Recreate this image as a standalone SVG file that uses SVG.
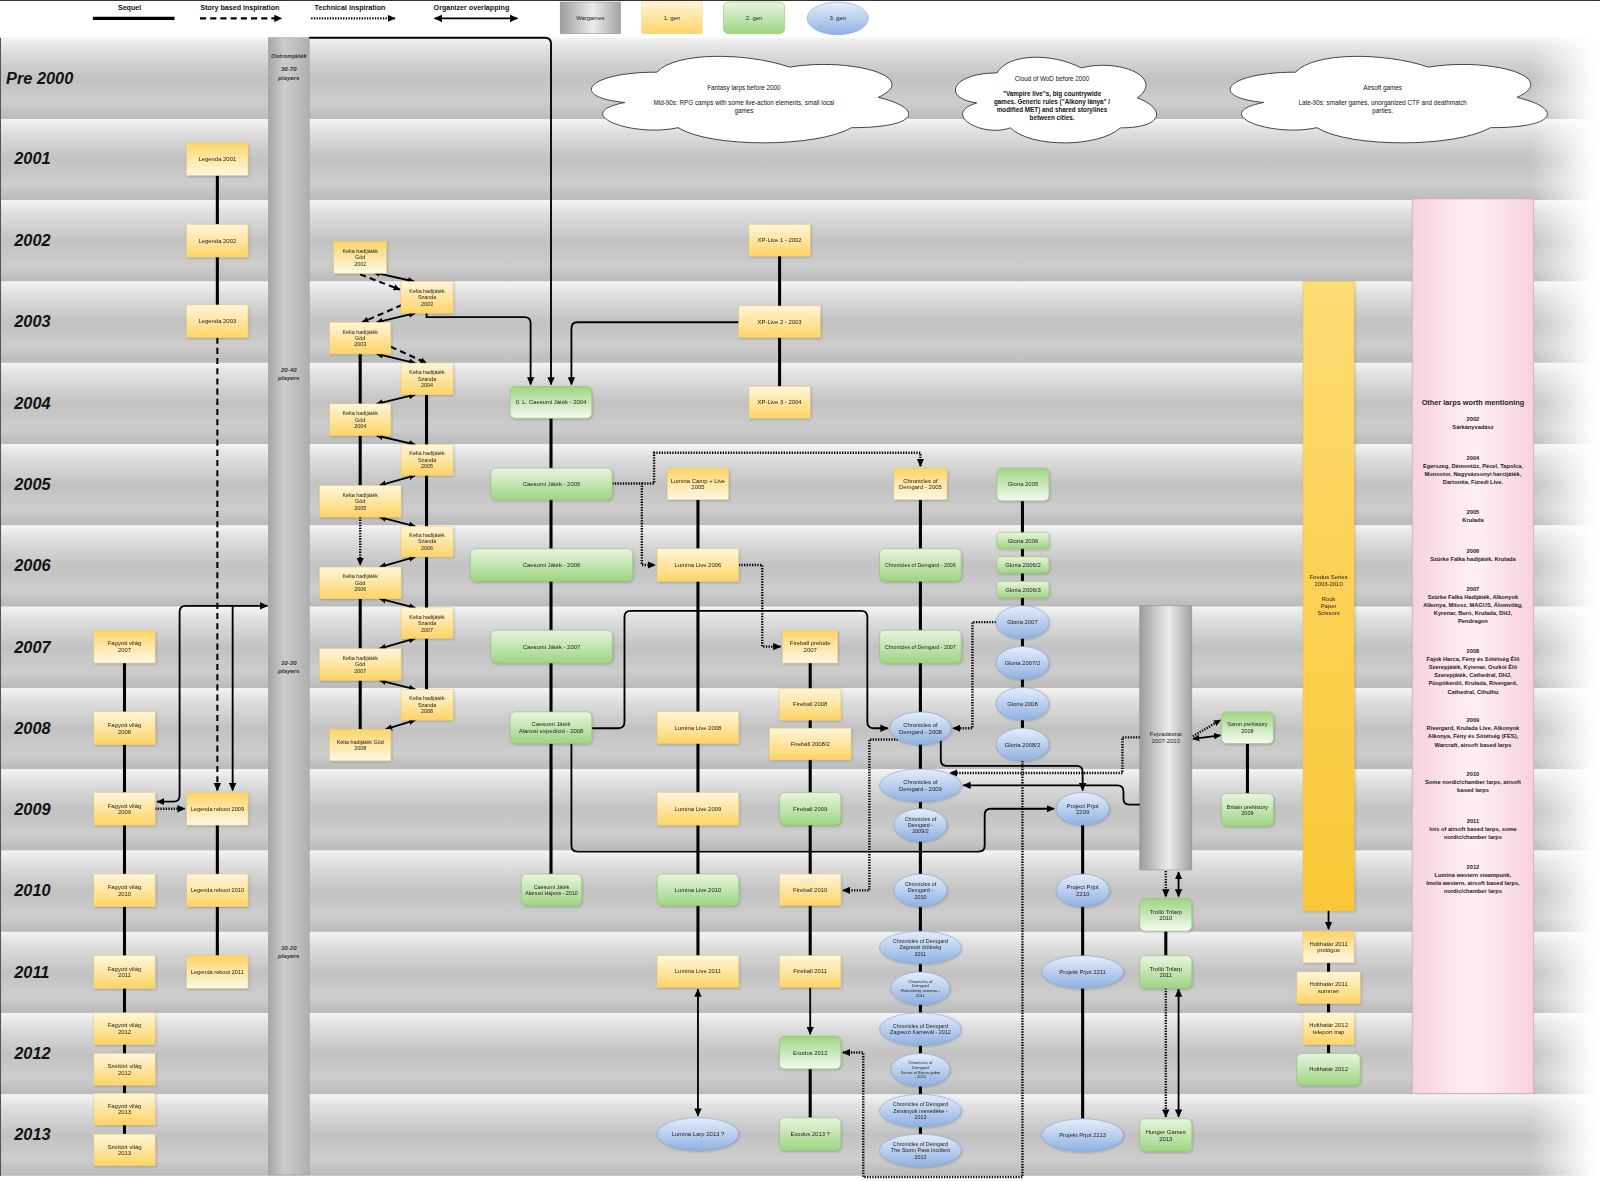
<svg xmlns="http://www.w3.org/2000/svg" width="1600" height="1181" viewBox="0 0 1600 1181">
<defs>
<linearGradient id="band" x1="0" y1="0" x2="0" y2="1"><stop offset="0" stop-color="#f4f4f4"/><stop offset="0.15" stop-color="#e0e0e0"/><stop offset="0.5" stop-color="#c2c2c2"/><stop offset="0.8" stop-color="#cdcdcd"/><stop offset="1" stop-color="#bababa"/></linearGradient>
<linearGradient id="gy1" x1="0" y1="0" x2="0" y2="1"><stop offset="0" stop-color="#fff6da"/><stop offset="1" stop-color="#fdd466"/></linearGradient>
<linearGradient id="gy2" x1="0" y1="0" x2="0" y2="1"><stop offset="0" stop-color="#fdd466"/><stop offset="1" stop-color="#fff8e6"/></linearGradient>
<linearGradient id="gg1" x1="0" y1="0" x2="0" y2="1"><stop offset="0" stop-color="#e8f5df"/><stop offset="1" stop-color="#9ed583"/></linearGradient>
<linearGradient id="gg2" x1="0" y1="0" x2="0" y2="1"><stop offset="0" stop-color="#9ed583"/><stop offset="1" stop-color="#f4fbf0"/></linearGradient>
<linearGradient id="gb" x1="0" y1="0" x2="0" y2="1"><stop offset="0" stop-color="#e6eefb"/><stop offset="1" stop-color="#8fb1e2"/></linearGradient>
<linearGradient id="ggr" x1="0" y1="0" x2="1" y2="0"><stop offset="0" stop-color="#9d9d9d"/><stop offset="0.55" stop-color="#ececec"/><stop offset="1" stop-color="#a2a2a2"/></linearGradient>
<linearGradient id="gost" x1="0" y1="0" x2="1" y2="0"><stop offset="0" stop-color="#a6a6a6"/><stop offset="0.4" stop-color="#cdcdcd"/><stop offset="1" stop-color="#afafaf"/></linearGradient>
<linearGradient id="gfo" x1="0" y1="0" x2="0" y2="1"><stop offset="0" stop-color="#fddb74"/><stop offset="0.4" stop-color="#fdd35a"/><stop offset="1" stop-color="#f9c736"/></linearGradient>
<linearGradient id="gpk" x1="0" y1="0" x2="1" y2="0"><stop offset="0" stop-color="#f8d1de"/><stop offset="0.5" stop-color="#fff0f5"/><stop offset="1" stop-color="#f8d1de"/></linearGradient>
<linearGradient id="gfade" x1="0" y1="0" x2="1" y2="0"><stop offset="0" stop-color="#fff" stop-opacity="0"/><stop offset="1" stop-color="#fff" stop-opacity="1"/></linearGradient>
<filter id="ds" x="-20%" y="-20%" width="140%" height="150%"><feDropShadow dx="0.8" dy="1" stdDeviation="0.8" flood-color="#000" flood-opacity="0.22"/></filter>
<marker id="ah" viewBox="0 0 10 10" refX="9" refY="5" markerUnits="userSpaceOnUse" markerWidth="8" markerHeight="8" orient="auto-start-reverse"><path d="M0,0.5 L10,5 L0,9.5 z" fill="#000"/></marker>
<marker id="as" viewBox="0 0 10 10" refX="9" refY="5" markerUnits="userSpaceOnUse" markerWidth="7" markerHeight="7" orient="auto-start-reverse"><path d="M0,0.5 L10,5 L0,9.5 z" fill="#000"/></marker>
<style>
.t{font-family:"Liberation Sans",Arial,Helvetica,sans-serif;font-size:5.8px;fill:#222;text-anchor:middle}
.k{font-size:5.3px}
.sm{font-size:4px}
.yr{font-family:"Liberation Sans",Arial,sans-serif;font-size:16px;font-weight:bold;font-style:italic;fill:#111}
.lg{font-family:"Liberation Sans",Arial,sans-serif;font-size:7px;font-weight:bold;fill:#111;text-anchor:middle}
.pk{font-family:"Liberation Sans",Arial,sans-serif;font-size:5.6px;font-weight:bold;fill:#222;text-anchor:middle}
.bt{font-family:"Liberation Sans",Arial,sans-serif;font-size:6px;font-weight:bold;font-style:italic;fill:#333;text-anchor:middle}
.ct{font-family:"Liberation Sans",Arial,sans-serif;font-size:6.2px;fill:#111;text-anchor:middle}
.bd{fill:url(#band)}
.y1{fill:url(#gy1);stroke:#f3cf6a;stroke-width:0.5}
.y2{fill:url(#gy2);stroke:#f3cf6a;stroke-width:0.5}
.g1{fill:url(#gg1);stroke:#8ccb6c;stroke-width:0.6}
.g2{fill:url(#gg2);stroke:#8ccb6c;stroke-width:0.6}
.b{fill:url(#gb);stroke:#84a6d6;stroke-width:0.6}
.gr{fill:url(#ggr);stroke:#8a8a8a;stroke-width:0.5}
.n{filter:url(#ds)}
.s{stroke:#000;stroke-width:3;fill:none}
.l{stroke:#000;stroke-width:1.8;fill:none}
.d{stroke:#000;stroke-width:2;stroke-dasharray:6 4;fill:none}
.o{stroke:#000;stroke-width:2.4;stroke-dasharray:1.3 1.3;fill:none}
.cl{fill:#fff;stroke:#444;stroke-width:1}
</style>
</defs>
<rect x="0" y="0" width="1600" height="1181" fill="#fff"/>
<g transform="scale(1.0204 1.0199)">
<g id="bands">
<rect class="bd" x="0" y="37" width="1562" height="79.7"/>
<rect class="bd" x="0" y="116.7" width="1562" height="79.7"/>
<rect class="bd" x="0" y="196.4" width="1562" height="79.7"/>
<rect class="bd" x="0" y="276.1" width="1562" height="79.7"/>
<rect class="bd" x="0" y="355.8" width="1562" height="79.7"/>
<rect class="bd" x="0" y="435.5" width="1562" height="79.7"/>
<rect class="bd" x="0" y="515.2" width="1562" height="79.7"/>
<rect class="bd" x="0" y="594.9" width="1562" height="79.7"/>
<rect class="bd" x="0" y="674.6" width="1562" height="79.7"/>
<rect class="bd" x="0" y="754.3" width="1562" height="79.7"/>
<rect class="bd" x="0" y="834" width="1562" height="79.7"/>
<rect class="bd" x="0" y="913.7" width="1562" height="79.7"/>
<rect class="bd" x="0" y="993.4" width="1562" height="79.7"/>
<rect class="bd" x="0" y="1073.1" width="1562" height="79.7"/>
<rect x="1500" y="37" width="62" height="1116" fill="url(#gfade)"/>
<line x1="0.5" y1="37" x2="0.5" y2="1153" stroke="#555" stroke-width="1"/>
<line x1="0" y1="0.5" x2="1568" y2="0.5" stroke="#333" stroke-width="1"/>
</g>
<g id="years">
<text class="yr" x="6" y="82">Pre 2000</text>
<text class="yr" x="14" y="161">2001</text>
<text class="yr" x="14" y="241">2002</text>
<text class="yr" x="14" y="321">2003</text>
<text class="yr" x="14" y="401">2004</text>
<text class="yr" x="14" y="480">2005</text>
<text class="yr" x="14" y="560">2006</text>
<text class="yr" x="14" y="640">2007</text>
<text class="yr" x="14" y="720">2008</text>
<text class="yr" x="14" y="799">2009</text>
<text class="yr" x="14" y="879">2010</text>
<text class="yr" x="14" y="959">2011</text>
<text class="yr" x="14" y="1038">2012</text>
<text class="yr" x="14" y="1118">2013</text>
</g>
<g id="legend">
<text class="lg" x="127" y="10">Sequel</text>
<line class="s" x1="91" y1="18" x2="171" y2="18"/>
<text class="lg" x="235" y="10">Story based inspiration</text>
<line class="d" x1="196" y1="18" x2="276" y2="18" marker-end="url(#ah)"/>
<text class="lg" x="343" y="10">Technical inspiration</text>
<line class="o" x1="305" y1="18" x2="387" y2="18" marker-end="url(#ah)"/>
<text class="lg" x="462" y="10">Organizer overlapping</text>
<line class="l" x1="426" y1="18" x2="507" y2="18" marker-start="url(#ah)" marker-end="url(#ah)"/>
<g id="lg_war"><rect class="gr" x="549" y="2" width="59" height="31"/><text class="t" x="578.5" y="19.5">Wargames</text></g>
<g id="lg_1gen"><rect class="y1" x="629" y="2" width="59" height="31"/><text class="t" x="658.5" y="19.5">1. gen</text></g>
<g id="lg_2gen"><rect class="g1" x="709" y="2" width="60" height="31" rx="5"/><text class="t" x="739" y="19.5">2. gen</text></g>
<g id="lg_3gen"><ellipse class="b" cx="821" cy="18" rx="30" ry="16"/><text class="t" x="821" y="20">3. gen</text></g>
</g>
<g id="ostromjatek">
<rect x="263" y="37" width="40" height="1115" fill="url(#gost)" stroke="#999" stroke-width="0.5"/>
<text class="bt" x="283" y="57">Ostromjáték</text>
<text class="bt" x="283" y="70">30-70</text>
<text class="bt" x="283" y="78">players</text>
<text class="bt" x="283" y="365">20-40</text>
<text class="bt" x="283" y="373">players</text>
<text class="bt" x="283" y="652">10-30</text>
<text class="bt" x="283" y="660">players</text>
<text class="bt" x="283" y="931">10-20</text>
<text class="bt" x="283" y="939">players</text>
</g>
<g id="other_larps">
<rect x="1384" y="195" width="119" height="877" fill="url(#gpk)" stroke="#d7a9b9" stroke-width="0.8"/>
<text class="pk" x="1443.5" y="397" style="font-size:7.2px">Other larps worth mentioning</text>
<text class="pk" x="1443.5" y="413">2002</text>
<text class="pk" x="1443.5" y="421">Sárkányvadász</text>
<text class="pk" x="1443.5" y="451">2004</text>
<text class="pk" x="1443.5" y="459">Egerszeg, Démontűz, Pécel, Tapolca,</text>
<text class="pk" x="1443.5" y="467">Monostor, Nagyvázsonyi harcijáték,</text>
<text class="pk" x="1443.5" y="475">Dartonita, Füredi Live.</text>
<text class="pk" x="1443.5" y="504">2005</text>
<text class="pk" x="1443.5" y="512">Krulada</text>
<text class="pk" x="1443.5" y="542">2006</text>
<text class="pk" x="1443.5" y="550">Szürke Falka hadijáték, Krulada</text>
<text class="pk" x="1443.5" y="579">2007</text>
<text class="pk" x="1443.5" y="587">Szürke Falka Hadijáték, Alkonyok</text>
<text class="pk" x="1443.5" y="595">Alkonya, Mítosz, MAGUS, Álomvilág,</text>
<text class="pk" x="1443.5" y="603">Kyrenar, Buró, Krulada, DHJ,</text>
<text class="pk" x="1443.5" y="611">Pendragon</text>
<text class="pk" x="1443.5" y="640">2008</text>
<text class="pk" x="1443.5" y="648">Fajok Harca, Fény és Sötétség Élő</text>
<text class="pk" x="1443.5" y="656">Szerepjáték, Kyrenar, Oszkói Élő</text>
<text class="pk" x="1443.5" y="664">Szerepjáték, Cathedral, DHJ,</text>
<text class="pk" x="1443.5" y="672">Püspökerdő, Krulada, Rivergard,</text>
<text class="pk" x="1443.5" y="680">Cathedral, Cthulhu</text>
<text class="pk" x="1443.5" y="708">2009</text>
<text class="pk" x="1443.5" y="716">Rivergard, Krulada Live, Alkonyok</text>
<text class="pk" x="1443.5" y="724">Alkonya, Fény és Sötétség (FES),</text>
<text class="pk" x="1443.5" y="732">Warcraft, airsoft based larps</text>
<text class="pk" x="1443.5" y="761">2010</text>
<text class="pk" x="1443.5" y="769">Some nordic/chamber larps, airsoft</text>
<text class="pk" x="1443.5" y="777">based larps</text>
<text class="pk" x="1443.5" y="807">2011</text>
<text class="pk" x="1443.5" y="815">lots of airsoft based larps, some</text>
<text class="pk" x="1443.5" y="823">nordic/chamber larps</text>
<text class="pk" x="1443.5" y="852">2012</text>
<text class="pk" x="1443.5" y="860">Lumina western steampunk,</text>
<text class="pk" x="1443.5" y="868">Imola western, airsoft based larps,</text>
<text class="pk" x="1443.5" y="876">nordic/chamber larps</text>
</g>
<g id="foedus" class="n">
<rect x="1277" y="276" width="50" height="617" fill="url(#gfo)" stroke="#f2c64a" stroke-width="0.6"/>
<text class="t" x="1302" y="568">Foedus Series</text>
<text class="t" x="1302" y="575">2003-2010</text>
<text class="t" x="1302" y="589">Rock</text>
<text class="t" x="1302" y="596">Paper</text>
<text class="t" x="1302" y="603">Scissors</text>
</g>
<g id="fejvadaszat">
<rect class="gr" x="1117" y="594" width="51" height="259"/>
<text class="t" x="1142.5" y="721.75">Fejvadászat<tspan x="1142.5" dy="6.5">2007-2010</tspan></text>
</g>
<g id="cloud_fantasy">
<path class="cl" vector-effect="non-scaling-stroke" transform="translate(557 46) scale(3.47 0.99)" d="M25 25 C5 25 0 50 16 55 C0 66 18 90 31 80 C40 100 70 100 80 80 C100 80 100 60 87.5 50 C100 30 80 10 62.5 20 C50 5 30 5 25 25 Z"/>
<text class="ct" x="729" y="88">Fantasy larps before 2000</text>
<text class="ct" x="729" y="103">Mid-90s: RPG camps with some live-action elements, small local</text>
<text class="ct" x="729" y="110.5">games</text>
</g>
<g id="cloud_wod">
<path class="cl" vector-effect="non-scaling-stroke" transform="translate(922 47) scale(2.2 0.98)" d="M25 25 C5 25 0 50 16 55 C0 66 18 90 31 80 C40 100 70 100 80 80 C100 80 100 60 87.5 50 C100 30 80 10 62.5 20 C50 5 30 5 25 25 Z"/>
<text class="ct" x="1031" y="79">Cloud of WoD before 2000</text>
<text class="ct" x="1031" y="94" font-weight="bold">"Vampire live"s, big countrywide</text>
<text class="ct" x="1031" y="102" font-weight="bold">games. Generic rules ("Alkony lánya" /</text>
<text class="ct" x="1031" y="110" font-weight="bold">modified MET) and shared storylines</text>
<text class="ct" x="1031" y="118" font-weight="bold">between cities.</text>
</g>
<g id="cloud_airsoft">
<path class="cl" vector-effect="non-scaling-stroke" transform="translate(1183 46) scale(3.47 0.99)" d="M25 25 C5 25 0 50 16 55 C0 66 18 90 31 80 C40 100 70 100 80 80 C100 80 100 60 87.5 50 C100 30 80 10 62.5 20 C50 5 30 5 25 25 Z"/>
<text class="ct" x="1355" y="88">Airsoft games</text>
<text class="ct" x="1355" y="103">Late-90s: smaller games, unorganized CTF and deathmatch</text>
<text class="ct" x="1355" y="110.5">parties.</text>
</g>
<g id="connectors">
<path class="s" d="M213 172 V220 M213 252 V299 M213 809 V857 M213 889 V937"/>
<path class="s" d="M122 650 V1112"/>
<path class="s" d="M353 347 V396 M353 427 V476 M353 587 V636 M353 667 V715"/>
<path class="s" d="M418 387 V676"/>
<path class="s" d="M540 410 V857"/>
<path class="s" d="M764 251 V379"/>
<path class="s" d="M684 490 V937"/>
<path class="s" d="M794 650 V937 M794 1048 V1096"/>
<path class="s" d="M902 490 V1112"/>
<path class="s" d="M1002 491 V714"/>
<path class="s" d="M1061 809 V1097"/>
<path class="s" d="M1142.5 913 V937"/>
<path class="s" d="M1222.5 729 V778"/>
<path class="s" d="M1302 944 V1033"/>
<path class="d" d="M213 331 V775" marker-end="url(#ah)"/>
<path class="o" d="M353 507 V554" marker-end="url(#ah)"/>
<path class="d" d="M353 269 L392 284" marker-end="url(#as)"/>
<path class="d" d="M394 299 L355 316" marker-end="url(#as)"/>
<path class="d" d="M383 340 L418 356" marker-end="url(#as)"/>
<g marker-start="url(#as)" marker-end="url(#as)">
<path class="l" d="M366 267 L406 276"/>
<path class="l" d="M407 307 L369 316"/>
<path class="l" d="M369 347 L407 356"/>
<path class="l" d="M407 387 L369 396"/>
<path class="l" d="M369 427 L407 436"/>
<path class="l" d="M407 466 L372 476"/>
<path class="l" d="M372 507 L407 516"/>
<path class="l" d="M407 546 L372 556"/>
<path class="l" d="M372 587 L407 596"/>
<path class="l" d="M407 626 L372 636"/>
<path class="l" d="M372 667 L407 676"/>
<path class="l" d="M407 706 L378 715"/>
</g>
<path class="l" d="M303 37 H534 Q540 37 540 43 V377" marker-end="url(#ah)"/>
<path class="l" d="M418 307 V311 H514 Q520 311 520 317 V377" marker-end="url(#ah)"/>
<path class="l" d="M724 316 H566 Q560 316 560 322 V377" marker-end="url(#ah)"/>
<path class="l" d="M154 786 H170 Q176 786 176 780 V600 Q176 594 182 594 H262" marker-start="url(#ah)" marker-end="url(#ah)"/>
<path class="l" d="M228 594 V775" marker-end="url(#ah)"/>
<path class="o" d="M152 793 H181" marker-end="url(#ah)"/>
<path class="o" d="M600 474 H629 V554 H642" marker-end="url(#ah)"/>
<path class="o" d="M629 474 H641 V444 H902 V457" marker-end="url(#ah)"/>
<path class="o" d="M724 554 H747 V634 H765" marker-end="url(#ah)"/>
<path class="l" d="M580 714 H606 Q612 714 612 708 V605 Q612 599 618 599 H844 Q850 599 850 605 V708 Q850 714 856 714 H870" marker-end="url(#ah)"/>
<path class="l" d="M560 729 V829 Q560 835 566 835 H959 Q965 835 965 829 V799 Q965 793 971 793 H1033" marker-end="url(#ah)"/>
<path class="l" d="M922 726 V745 Q922 751 928 751 H1055 Q1061 751 1061 757 V775" marker-end="url(#ah)"/>
<path class="o" d="M976 610 H953 V714 H934" marker-end="url(#ah)"/>
<path class="o" d="M880 725 H852 V873 H826" marker-end="url(#ah)"/>
<path class="o" d="M1002 746 V1154 H846 V1032 H826" marker-end="url(#ah)"/>
<path class="o" d="M1117 723 H1100 V758 H931" marker-end="url(#ah)"/>
<path class="l" d="M1117 789 H1107 Q1101 789 1101 783 V776 Q1101 770 1095 770 H944" marker-end="url(#ah)"/>
<path class="o" d="M1169 722 L1196 706" marker-end="url(#as)"/>
<path class="l" d="M1169 724.5 L1196 721" marker-start="url(#as)" marker-end="url(#as)"/>
<path class="o" d="M1142.5 854 V879" marker-end="url(#ah)"/>
<path class="l" d="M1155 855 V879" marker-start="url(#ah)" marker-end="url(#ah)"/>
<path class="o" d="M1142.5 969 V1095" marker-end="url(#ah)"/>
<path class="l" d="M1155 970 V1095" marker-start="url(#ah)" marker-end="url(#ah)"/>
<path class="l" d="M684 970 V1094" marker-start="url(#ah)" marker-end="url(#ah)"/>
<path class="l" d="M794 968 V1014" marker-end="url(#ah)"/>
<path class="l" d="M1302 893 V911" stroke-width="2.4" marker-end="url(#ah)"/>
</g>
<g id="n_legenda2001" class="n"><rect class="y2" x="183" y="140" width="60" height="32"/><text class="t" x="213" y="158">Legenda 2001</text></g>
<g id="n_legenda2002" class="n"><rect class="y1" x="183" y="220" width="60" height="32"/><text class="t" x="213" y="238">Legenda 2002</text></g>
<g id="n_legenda2003" class="n"><rect class="y1" x="183" y="299" width="60" height="32"/><text class="t" x="213" y="317">Legenda 2003</text></g>
<g id="n_legendar2009" class="n"><rect class="y2" x="183" y="777" width="60" height="32"/><text class="t" x="213" y="795" style="font-size:5.5px">Legenda reboot 2009</text></g>
<g id="n_legendar2010" class="n"><rect class="y1" x="183" y="857" width="60" height="32"/><text class="t" x="213" y="875" style="font-size:5.5px">Legenda reboot 2010</text></g>
<g id="n_legendar2011" class="n"><rect class="y2" x="183" y="937" width="60" height="32"/><text class="t" x="213" y="955" style="font-size:5.5px">Legenda reboot 2011</text></g>
<g id="n_fagyott2007" class="n"><rect class="y2" x="92" y="618" width="60" height="32"/><text class="t" x="122" y="632.75">Fagyott világ<tspan x="122" dy="6.5">2007</tspan></text></g>
<g id="n_fagyott2008" class="n"><rect class="y1" x="92" y="698" width="60" height="32"/><text class="t" x="122" y="712.75">Fagyott világ<tspan x="122" dy="6.5">2008</tspan></text></g>
<g id="n_fagyott2009" class="n"><rect class="y1" x="92" y="777" width="60" height="32"/><text class="t" x="122" y="791.75">Fagyott világ<tspan x="122" dy="6.5">2009</tspan></text></g>
<g id="n_fagyott2010" class="n"><rect class="y1" x="92" y="857" width="60" height="32"/><text class="t" x="122" y="871.75">Fagyott világ<tspan x="122" dy="6.5">2010</tspan></text></g>
<g id="n_fagyott2011" class="n"><rect class="y1" x="92" y="937" width="60" height="32"/><text class="t" x="122" y="951.75">Fagyott világ<tspan x="122" dy="6.5">2011</tspan></text></g>
<g id="n_fagyott2012" class="n"><rect class="y1" x="92" y="993" width="60" height="31"/><text class="t" x="122" y="1007.25">Fagyott világ<tspan x="122" dy="6.5">2012</tspan></text></g>
<g id="n_szettort2012" class="n"><rect class="y1" x="92" y="1033" width="60" height="31"/><text class="t" x="122" y="1047.25">Széttört világ<tspan x="122" dy="6.5">2012</tspan></text></g>
<g id="n_fagyott2013" class="n"><rect class="y1" x="92" y="1072" width="60" height="31"/><text class="t" x="122" y="1086.25">Fagyott világ<tspan x="122" dy="6.5">2013</tspan></text></g>
<g id="n_szettort2013" class="n"><rect class="y1" x="92" y="1112" width="60" height="31"/><text class="t" x="122" y="1126.25">Széttört világ<tspan x="122" dy="6.5">2013</tspan></text></g>
<g id="n_kgod2002" class="n"><rect class="y2" x="327" y="237" width="52" height="31"/><text class="t k" x="353" y="248.1">Kelta hadijáték<tspan x="353" dy="6.3">Göd</tspan><tspan x="353" dy="6.3">2002</tspan></text></g>
<g id="n_kszanda2003" class="n"><rect class="y1" x="393" y="276" width="51" height="31"/><text class="t k" x="418.5" y="287.1">Kelta hadijáték<tspan x="418.5" dy="6.3">Szanda</tspan><tspan x="418.5" dy="6.3">2003</tspan></text></g>
<g id="n_kgod2003" class="n"><rect class="y1" x="323" y="316" width="60" height="31"/><text class="t k" x="353" y="327.1">Kelta hadijáték<tspan x="353" dy="6.3">Göd</tspan><tspan x="353" dy="6.3">2003</tspan></text></g>
<g id="n_kszanda2004" class="n"><rect class="y1" x="393" y="356" width="51" height="31"/><text class="t k" x="418.5" y="367.1">Kelta hadijáték<tspan x="418.5" dy="6.3">Szanda</tspan><tspan x="418.5" dy="6.3">2004</tspan></text></g>
<g id="n_kgod2004" class="n"><rect class="y1" x="323" y="396" width="60" height="31"/><text class="t k" x="353" y="407.1">Kelta hadijáték<tspan x="353" dy="6.3">Göd</tspan><tspan x="353" dy="6.3">2004</tspan></text></g>
<g id="n_kszanda2005" class="n"><rect class="y1" x="393" y="436" width="51" height="30"/><text class="t k" x="418.5" y="446.6">Kelta hadijáték<tspan x="418.5" dy="6.3">Szanda</tspan><tspan x="418.5" dy="6.3">2005</tspan></text></g>
<g id="n_kgod2005" class="n"><rect class="y1" x="313" y="476" width="80" height="31"/><text class="t k" x="353" y="487.1">Kelta hadijáték<tspan x="353" dy="6.3">Göd</tspan><tspan x="353" dy="6.3">2005</tspan></text></g>
<g id="n_kszanda2006" class="n"><rect class="y1" x="393" y="516" width="51" height="30"/><text class="t k" x="418.5" y="526.6">Kelta hadijáték<tspan x="418.5" dy="6.3">Szanda</tspan><tspan x="418.5" dy="6.3">2006</tspan></text></g>
<g id="n_kgod2006" class="n"><rect class="y1" x="313" y="556" width="80" height="31"/><text class="t k" x="353" y="567.1">Kelta hadijáték<tspan x="353" dy="6.3">Göd</tspan><tspan x="353" dy="6.3">2006</tspan></text></g>
<g id="n_kszanda2007" class="n"><rect class="y1" x="393" y="596" width="51" height="30"/><text class="t k" x="418.5" y="606.6">Kelta hadijáték<tspan x="418.5" dy="6.3">Szanda</tspan><tspan x="418.5" dy="6.3">2007</tspan></text></g>
<g id="n_kgod2007" class="n"><rect class="y1" x="313" y="636" width="80" height="31"/><text class="t k" x="353" y="647.1">Kelta hadijáték<tspan x="353" dy="6.3">Göd</tspan><tspan x="353" dy="6.3">2007</tspan></text></g>
<g id="n_kszanda2008" class="n"><rect class="y1" x="393" y="676" width="51" height="30"/><text class="t k" x="418.5" y="686.6">Kelta hadijáték<tspan x="418.5" dy="6.3">Szanda</tspan><tspan x="418.5" dy="6.3">2008</tspan></text></g>
<g id="n_kgod2008" class="n"><rect class="y2" x="323" y="715" width="60" height="31"/><text class="t k" x="353" y="729.3">Kelta hadijáték Göd<tspan x="353" dy="6.3">2008</tspan></text></g>
<g id="n_caesumi2004" class="n"><rect class="g2" x="500" y="379" width="80" height="31" rx="5"/><text class="t" x="540" y="396.5">0. L. Caesumi Játék - 2004</text></g>
<g id="n_caesumi2005" class="n"><rect class="g1" x="481" y="459" width="119" height="31" rx="5"/><text class="t" x="540.5" y="476.5">Caesumi Játék - 2005</text></g>
<g id="n_caesumi2006" class="n"><rect class="g1" x="461" y="538" width="159" height="32" rx="5"/><text class="t" x="540.5" y="556">Caesumi Játék - 2006</text></g>
<g id="n_caesumi2007" class="n"><rect class="g1" x="481" y="618" width="119" height="32" rx="5"/><text class="t" x="540.5" y="636">Caesumi Játék - 2007</text></g>
<g id="n_caesumi2008" class="n"><rect class="g1" x="500" y="698" width="80" height="31" rx="5"/><text class="t" x="540" y="712.25">Caesumi Játék<tspan x="540" dy="6.5">Alanusi expedíció - 2008</tspan></text></g>
<g id="n_caesumi2010" class="n"><rect class="g1" x="511" y="857" width="59" height="31" rx="5"/><text class="t" x="540.5" y="871.25" style="font-size:5.3px">Caesumi Játék<tspan x="540.5" dy="6.5">Alanusi Hajsza - 2010</tspan></text></g>
<g id="n_xplive1" class="n"><rect class="y1" x="734" y="220" width="60" height="31"/><text class="t" x="764" y="237.5">XP-Live 1 - 2002</text></g>
<g id="n_xplive2" class="n"><rect class="y1" x="724" y="300" width="80" height="31"/><text class="t" x="764" y="317.5">XP-Live 2 - 2003</text></g>
<g id="n_xplive3" class="n"><rect class="y1" x="734" y="379" width="60" height="31"/><text class="t" x="764" y="396.5">XP-Live 3 - 2004</text></g>
<g id="n_lumina2005" class="n"><rect class="y2" x="654" y="459" width="60" height="31"/><text class="t" x="684" y="473.25">Lumina Camp + Live<tspan x="684" dy="6.5">2005</tspan></text></g>
<g id="n_lumina2006" class="n"><rect class="y1" x="644" y="538" width="80" height="32"/><text class="t" x="684" y="556">Lumina Live 2006</text></g>
<g id="n_lumina2008" class="n"><rect class="y1" x="644" y="698" width="80" height="31"/><text class="t" x="684" y="715.5">Lumina Live 2008</text></g>
<g id="n_lumina2009" class="n"><rect class="y1" x="644" y="777" width="80" height="32"/><text class="t" x="684" y="795">Lumina Live 2009</text></g>
<g id="n_lumina2010" class="n"><rect class="g1" x="644" y="857" width="80" height="31" rx="5"/><text class="t" x="684" y="874.5">Lumina Live 2010</text></g>
<g id="n_lumina2011" class="n"><rect class="y1" x="644" y="937" width="80" height="31"/><text class="t" x="684" y="954.5">Lumina Live 2011</text></g>
<g id="n_lumina2013" class="n"><ellipse class="b" cx="684" cy="1112" rx="40" ry="16"/><text class="t" x="684" y="1114">Lumina Larp 2013 ?</text></g>
<g id="n_fireballprelude" class="n"><rect class="y2" x="767" y="618" width="54" height="32"/><text class="t" x="794" y="632.75">Fireball prelude<tspan x="794" dy="6.5">2007</tspan></text></g>
<g id="n_fireball2008" class="n"><rect class="y1" x="764" y="675" width="60" height="31"/><text class="t" x="794" y="692.5">Fireball 2008</text></g>
<g id="n_fireball2008b" class="n"><rect class="y1" x="754" y="714" width="80" height="31"/><text class="t" x="794" y="731.5">Fireball 2008/2</text></g>
<g id="n_fireball2009" class="n"><rect class="g1" x="764" y="777" width="60" height="32" rx="5"/><text class="t" x="794" y="795">Fireball 2009</text></g>
<g id="n_fireball2010" class="n"><rect class="y1" x="764" y="857" width="60" height="31"/><text class="t" x="794" y="874.5">Fireball 2010</text></g>
<g id="n_fireball2011" class="n"><rect class="y1" x="764" y="937" width="60" height="31"/><text class="t" x="794" y="954.5">Fireball 2011</text></g>
<g id="n_exodus2012" class="n"><rect class="g2" x="764" y="1016" width="60" height="32" rx="5"/><text class="t" x="794" y="1034">Exodus 2012</text></g>
<g id="n_exodus2013" class="n"><rect class="g1" x="764" y="1096" width="60" height="32" rx="5"/><text class="t" x="794" y="1114">Exodus 2013 ?</text></g>
<g id="n_cd2005" class="n"><rect class="y2" x="876" y="459" width="52" height="31"/><text class="t" x="902" y="473.25">Chronicles of<tspan x="902" dy="6.5">Demgard - 2005</tspan></text></g>
<g id="n_cd2006" class="n"><rect class="g1" x="862" y="538" width="80" height="32" rx="5"/><text class="t" x="902" y="556" style="font-size:5.2px">Chronicles of Demgard - 2006</text></g>
<g id="n_cd2007" class="n"><rect class="g1" x="862" y="618" width="80" height="32" rx="5"/><text class="t" x="902" y="636" style="font-size:5.2px">Chronicles of Demgard - 2007</text></g>
<g id="n_cd2008" class="n"><ellipse class="b" cx="902" cy="714" rx="30" ry="16"/><text class="t" x="902" y="712.75">Chronicles of<tspan x="902" dy="6.5">Demgard - 2008</tspan></text></g>
<g id="n_cd2009" class="n"><ellipse class="b" cx="902" cy="770" rx="40" ry="16"/><text class="t" x="902" y="768.75">Chronicles of<tspan x="902" dy="6.5">Demgard - 2009</tspan></text></g>
<g id="n_cd2009b" class="n"><ellipse class="b" cx="902" cy="809" rx="26" ry="16"/><text class="t k" x="902" y="804.6">Chronicles of<tspan x="902" dy="6.3">Demgard -</tspan><tspan x="902" dy="6.3">2009/2</tspan></text></g>
<g id="n_cd2010" class="n"><ellipse class="b" cx="902" cy="873" rx="26" ry="16"/><text class="t k" x="902" y="868.6">Chronicles of<tspan x="902" dy="6.3">Demgard -</tspan><tspan x="902" dy="6.3">2010</tspan></text></g>
<g id="n_cd2011a" class="n"><ellipse class="b" cx="902" cy="929" rx="40" ry="16"/><text class="t k" x="902" y="924.6">Chronicles of Demgard<tspan x="902" dy="6.3">Zagreozi örökség</tspan><tspan x="902" dy="6.3">2011</tspan></text></g>
<g id="n_cd2011b" class="n"><ellipse class="b" cx="902" cy="969" rx="29" ry="16"/><text class="t sm" x="902" y="963.5">Chronicles of<tspan x="902" dy="4.6">Demgard</tspan><tspan x="902" dy="4.6">Rabenberg ostroma -</tspan><tspan x="902" dy="4.6">2011</tspan></text></g>
<g id="n_cd2012a" class="n"><ellipse class="b" cx="902" cy="1009" rx="40" ry="16"/><text class="t k" x="902" y="1007.75">Chronicles of Demgard<tspan x="902" dy="6.3">Zagreozi Karnevál - 2012</tspan></text></g>
<g id="n_cd2012b" class="n"><ellipse class="b" cx="902" cy="1049" rx="29" ry="16"/><text class="t sm" x="902" y="1043.5">Chronicles of<tspan x="902" dy="4.6">Demgard</tspan><tspan x="902" dy="4.6">Secret of Barna gabin</tspan><tspan x="902" dy="4.6">- 2012</tspan></text></g>
<g id="n_cd2013a" class="n"><ellipse class="b" cx="902" cy="1089" rx="40" ry="16"/><text class="t k" x="902" y="1084.6">Chronicles of Demgard<tspan x="902" dy="6.3">Zsiványok menedéke -</tspan><tspan x="902" dy="6.3">2013</tspan></text></g>
<g id="n_cd2013b" class="n"><ellipse class="b" cx="902" cy="1128" rx="40" ry="16"/><text class="t k" x="902" y="1123.6">Chronicles of Demgard<tspan x="902" dy="6.3">The Storm Pass Incident</tspan><tspan x="902" dy="6.3">2013</tspan></text></g>
<g id="n_gloria2005" class="n"><rect class="g2" x="977" y="459" width="51" height="32" rx="5"/><text class="t" x="1002.5" y="477">Gloria 2005</text></g>
<g id="n_gloria2006" class="n"><rect class="g1" x="977" y="522" width="51" height="16" rx="4"/><text class="t" x="1002.5" y="532">Gloria 2006</text></g>
<g id="n_gloria2006b" class="n"><rect class="g1" x="977" y="546" width="51" height="16" rx="4"/><text class="t" x="1002.5" y="556">Gloria 2006/2</text></g>
<g id="n_gloria2006c" class="n"><rect class="g1" x="977" y="570" width="51" height="16" rx="4"/><text class="t" x="1002.5" y="580">Gloria 2006/3</text></g>
<g id="n_gloria2007" class="n"><ellipse class="b" cx="1002" cy="610" rx="26" ry="16"/><text class="t" x="1002" y="612">Gloria 2007</text></g>
<g id="n_gloria2007b" class="n"><ellipse class="b" cx="1002" cy="650" rx="26" ry="16"/><text class="t" x="1002" y="652">Gloria 2007/2</text></g>
<g id="n_gloria2008" class="n"><ellipse class="b" cx="1002" cy="690" rx="26" ry="16"/><text class="t" x="1002" y="692">Gloria 2008</text></g>
<g id="n_gloria2008b" class="n"><ellipse class="b" cx="1002" cy="730" rx="26" ry="16"/><text class="t" x="1002" y="732">Gloria 2008/2</text></g>
<g id="n_prjot2209" class="n"><ellipse class="b" cx="1061" cy="793" rx="26" ry="16"/><text class="t" x="1061" y="791.75">Project Prjot<tspan x="1061" dy="6.5">2209</tspan></text></g>
<g id="n_prjot2210" class="n"><ellipse class="b" cx="1061" cy="873" rx="26" ry="16"/><text class="t" x="1061" y="871.75">Project Prjot<tspan x="1061" dy="6.5">2210</tspan></text></g>
<g id="n_prjot2211" class="n"><ellipse class="b" cx="1061" cy="953" rx="40" ry="16"/><text class="t" x="1061" y="955">Projekt Prjot 2211</text></g>
<g id="n_prjot2213" class="n"><ellipse class="b" cx="1061" cy="1113" rx="40" ry="16"/><text class="t" x="1061" y="1115">Projekt Prjot 2213</text></g>
<g id="n_saron2008" class="n"><rect class="g2" x="1197" y="698" width="51" height="31" rx="5"/><text class="t" x="1222.5" y="712.25" style="font-size:5.4px">Saron prehistory<tspan x="1222.5" dy="6.5">2008</tspan></text></g>
<g id="n_britain2009" class="n"><rect class="g1" x="1197" y="778" width="51" height="32" rx="5"/><text class="t" x="1222.5" y="792.75" style="font-size:5.4px">Britain prehistory<tspan x="1222.5" dy="6.5">2009</tspan></text></g>
<g id="n_trilarp2010" class="n"><rect class="g2" x="1117" y="881" width="51" height="32" rx="5"/><text class="t" x="1142.5" y="895.75">Trolló Trilarp<tspan x="1142.5" dy="6.5">2010</tspan></text></g>
<g id="n_trilarp2011" class="n"><rect class="g1" x="1117" y="937" width="51" height="32" rx="5"/><text class="t" x="1142.5" y="951.75">Trolló Trilarp<tspan x="1142.5" dy="6.5">2011</tspan></text></g>
<g id="n_hunger2013" class="n"><rect class="g1" x="1117" y="1097" width="51" height="32" rx="5"/><text class="t" x="1142.5" y="1111.75">Hunger Games<tspan x="1142.5" dy="6.5">2013</tspan></text></g>
<g id="n_holthatar2011p" class="n"><rect class="y2" x="1277" y="913" width="50" height="31"/><text class="t" x="1302" y="927.25">Holthatár 2011<tspan x="1302" dy="6.5">prológus</tspan></text></g>
<g id="n_holthatar2011s" class="n"><rect class="y1" x="1271" y="953" width="62" height="31"/><text class="t" x="1302" y="967.25">Holthatár 2011<tspan x="1302" dy="6.5">summer</tspan></text></g>
<g id="n_holthatar2012t" class="n"><rect class="y1" x="1277" y="993" width="50" height="31"/><text class="t" x="1302" y="1007.25">Holthatár 2012<tspan x="1302" dy="6.5">teleport trap</tspan></text></g>
<g id="n_holthatar2012" class="n"><rect class="g1" x="1271" y="1033" width="62" height="31" rx="5"/><text class="t" x="1302" y="1050.5">Holthatár 2012</text></g>
</g>
</svg>
